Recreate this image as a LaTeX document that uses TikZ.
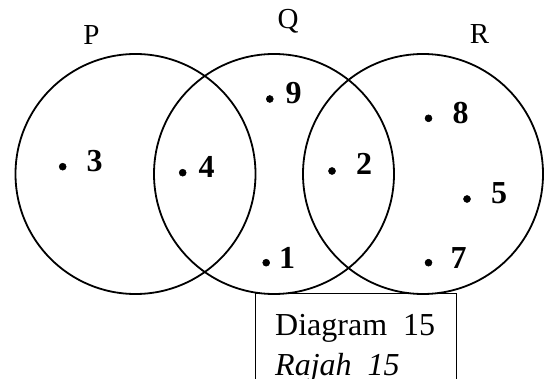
\documentclass[tikz,border=0pt]{standalone}
\usepackage{fontspec}
\setmainfont{Liberation Serif}
\begin{document}
\begin{tikzpicture}[x=1pt,y=-1pt,
  setc/.style={circle,draw,line width=1.8pt,minimum size=240pt,inner sep=0pt},
  setlab/.style={anchor=base,inner sep=0pt,font=\fontsize{29}{34}\selectfont},
  elem/.style={circle,fill,draw,line width=0.5pt,inner sep=0pt,minimum size=7pt},
  num/.style={anchor=base west,inner sep=0pt,font=\fontsize{32}{38}\selectfont\bfseries},
  capbox/.style={draw,line width=1.4pt,anchor=north west,minimum width=201pt,minimum height=120pt,inner sep=0pt},
  captext/.style={anchor=base west,inner sep=0pt,font=\fontsize{32}{38}\selectfont}]
\useasboundingbox (0,0) rectangle (548,379);
\clip (0,0) rectangle (548,379);
% sets
\node[setc] (P) at (135.5,174) {};
\node[setc] (Q) at (274,174) {};
\node[setc] (R) at (423,174) {};
\node[setlab] (Pl) at (91.5,45) {P};
\node[setlab] (Ql) at (288,29) {Q};
\node[setlab] (Rl) at (479.5,44) {R};
% elements
\node[elem] (d3) at (62.7,166.7) {};
\node[num] (n3) at (86.5,171.7) {3};
\node[elem] (d4) at (182.7,172.7) {};
\node[num] (n4) at (198.5,178) {4};
\node[elem] (d9) at (269.8,99) {};
\node[num] (n9) at (285.5,103.3) {9};
\node[elem] (d1) at (266.2,262.7) {};
\node[num] (n1) at (279,268.3) {1};
\node[elem] (d2) at (332,171) {};
\node[num] (n2) at (356,175) {2};
\node[elem] (d8) at (428.5,118.3) {};
\node[num] (n8) at (452.5,124) {8};
\node[elem] (d5) at (467,199) {};
\node[num] (n5) at (491,203.3) {5};
\node[elem] (d7) at (428.5,262.7) {};
\node[num] (n7) at (450.5,268.3) {7};
% caption box
\node[capbox] (box) at (255,293) {};
\node[captext] (c1) at (275,335) {Diagram\ \ 15};
\node[captext] (c2) at (275,375) {\itshape Rajah\ \ 15};
\end{tikzpicture}
\end{document}
